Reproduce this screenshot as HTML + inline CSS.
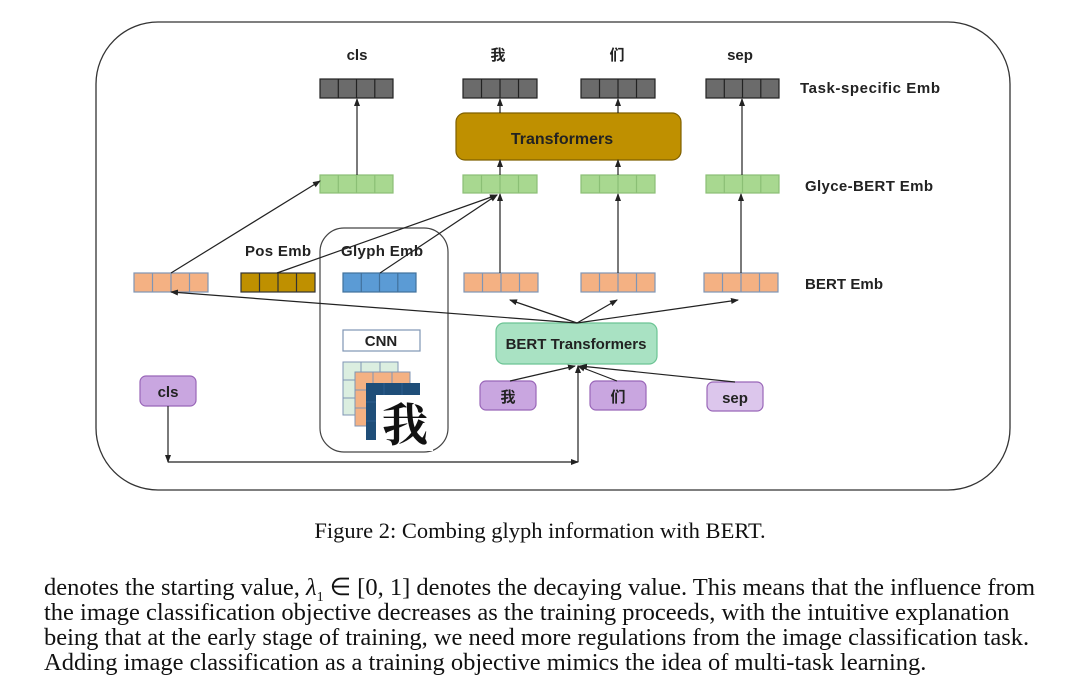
<!DOCTYPE html>
<html><head><meta charset="utf-8"><style>
body{margin:0;background:#fff;width:1080px;height:698px;overflow:hidden;position:relative}
svg{position:absolute;left:0;top:0}
.cap{position:absolute;top:518px;left:0;width:1080px;text-align:center;font:22.5px "Liberation Serif",serif;color:#111}
.p{position:absolute;left:44px;top:575px;width:1020px;font:24.5px/25px "Liberation Serif",serif;color:#111}
.p div{white-space:nowrap;height:25px}
sub{font-size:14px;line-height:0}
</style></head><body>
<svg width="1080" height="500" xmlns="http://www.w3.org/2000/svg" font-family="Liberation Sans, Noto Sans CJK SC, sans-serif">
<defs><marker id="a" markerWidth="8" markerHeight="8" refX="7" refY="4" orient="auto" markerUnits="userSpaceOnUse"><path d="M0,1 L8,4 L0,7z" fill="#222"/></marker></defs>
<rect x="96" y="22" width="914" height="468" rx="62" fill="none" stroke="#333" stroke-width="1.3"/>
<g font-size="15" font-weight="bold" fill="#222" text-anchor="middle">
<text x="357" y="60">cls</text><text x="498" y="60">我</text><text x="617" y="60">们</text><text x="740" y="60">sep</text>
</g>
<g font-size="15" font-weight="bold" fill="#222"><text x="800" y="93" textLength="140">Task-specific Emb</text><text x="805" y="191" textLength="128">Glyce-BERT Emb</text><text x="805" y="289" textLength="78">BERT Emb</text>
<text x="245" y="256" textLength="66">Pos Emb</text><text x="341" y="256" textLength="82">Glyph Emb</text></g>
<rect x="320" y="228" width="128" height="224" rx="24" fill="none" stroke="#444" stroke-width="1.2"/>
<g stroke-width="1.2">
<g fill="#6b6b6b" stroke="#222">
<rect x="320" y="79" width="73" height="19"/><rect x="463" y="79" width="74" height="19"/><rect x="581" y="79" width="74" height="19"/><rect x="706" y="79" width="73" height="19"/></g>
<g fill="#a8d890" stroke="#8bbf75">
<rect x="320" y="175" width="73" height="18"/><rect x="463" y="175" width="74" height="18"/><rect x="581" y="175" width="74" height="18"/><rect x="706" y="175" width="73" height="18"/></g>
<g fill="#f4b183" stroke="#7f95b5">
<rect x="134" y="273" width="74" height="19"/><rect x="464" y="273" width="74" height="19"/><rect x="581" y="273" width="74" height="19"/><rect x="704" y="273" width="74" height="19"/></g>
<rect x="241" y="273" width="74" height="19" fill="#bf9000" stroke="#333"/>
<rect x="343" y="273" width="73" height="19" fill="#5b9bd5" stroke="#41719c"/>
</g>
<g stroke-width="1.2">
<path d="M338.3 79v19M356.5 79v19M374.8 79v19M481.5 79v19M500 79v19M518.5 79v19M599.5 79v19M618 79v19M636.5 79v19M724.3 79v19M742.5 79v19M760.8 79v19" stroke="#222"/>
<path d="M338.3 175v18M356.5 175v18M374.8 175v18M481.5 175v18M500 175v18M518.5 175v18M599.5 175v18M618 175v18M636.5 175v18M724.3 175v18M742.5 175v18M760.8 175v18" stroke="#8bbf75"/>
<path d="M152.5 273v19M171 273v19M189.5 273v19M482.5 273v19M501 273v19M519.5 273v19M599.5 273v19M618 273v19M636.5 273v19M722.5 273v19M741 273v19M759.5 273v19" stroke="#7f95b5"/>
<path d="M259.5 273v19M278 273v19M296.5 273v19" stroke="#333"/>
<path d="M361.3 273v19M379.5 273v19M397.8 273v19" stroke="#41719c"/>
</g>
<rect x="456" y="113" width="225" height="47" rx="9" fill="#bf9000" stroke="#7f6000" stroke-width="1.2"/>
<text x="562" y="144" font-size="16" font-weight="bold" text-anchor="middle" fill="#222">Transformers</text>
<rect x="343" y="330" width="77" height="21" fill="#fff" stroke="#7f95b5" stroke-width="1.2"/>
<text x="381" y="346" font-size="15" font-weight="bold" text-anchor="middle" fill="#222">CNN</text>
<g stroke-width="1">
<rect x="343" y="362" width="55" height="53" fill="#dbeee0" stroke="#7f95b5"/>
<path d="M361 362v53M380 362v53M343 380h55M343 398h55" stroke="#7f95b5"/>
<rect x="355" y="372" width="55" height="54" fill="#f4b183" stroke="#7f95b5"/>
<path d="M373 372v54M392 372v54M355 390h55M355 408h55" stroke="#7f95b5"/>
<rect x="366" y="383" width="54" height="57" fill="#1f4e79"/>
<path d="M384 383v57M402 383v57M366 402h54M366 421h54" stroke="#2e5f8f"/>
<rect x="376" y="395" width="57" height="56" fill="#fff"/>
</g>
<text x="405" y="441" font-size="46" text-anchor="middle" fill="#111" font-family="Noto Serif CJK SC, serif" font-weight="bold">我</text>
<rect x="496" y="323" width="161" height="41" rx="8" fill="#a9e2c3" stroke="#6cc494" stroke-width="1.2"/>
<text x="576" y="349" font-size="15" font-weight="bold" text-anchor="middle" fill="#222">BERT Transformers</text>
<g stroke="#9966b8" stroke-width="1.2">
<rect x="140" y="376" width="56" height="30" rx="6" fill="#c9a6e0"/>
<rect x="480" y="381" width="56" height="29" rx="6" fill="#c9a6e0"/>
<rect x="590" y="381" width="56" height="29" rx="6" fill="#c9a6e0"/>
<rect x="707" y="382" width="56" height="29" rx="6" fill="#dcc6ec"/>
</g>
<g font-size="15" font-weight="bold" text-anchor="middle" fill="#222">
<text x="168" y="397">cls</text><text x="508" y="402">我</text><text x="618" y="402">们</text><text x="735" y="403">sep</text></g>
<g stroke="#222" stroke-width="1.2" fill="none" marker-end="url(#a)">
<path d="M168 406V462"/>
<path d="M168 462H578"/>
<path d="M578 462V366"/>
<path d="M510 381L575 366"/>
<path d="M617 381L578 366"/>
<path d="M735 382L580 366"/>
<path d="M577 323L510 300"/>
<path d="M577 323L617 300"/>
<path d="M577 323L738 300"/>
<path d="M577 323L171 292"/>
<path d="M171 273L320 181"/>
<path d="M277 273L497 195"/>
<path d="M380 273L497 195"/>
<path d="M500 273V194"/>
<path d="M618 273V194"/>
<path d="M741 273V194"/>
<path d="M357 175V99"/>
<path d="M500 175V160"/>
<path d="M618 175V160"/>
<path d="M742 175V99"/>
<path d="M500 113V99"/>
<path d="M618 113V99"/>
</g>
</svg>
<div class="cap">Figure 2: Combing glyph information with BERT.</div>
<div class="p">
<div>denotes the starting value, <i>λ</i><sub>1</sub> ∈ [0, 1] denotes the decaying value. This means that the influence from</div>
<div>the image classification objective decreases as the training proceeds, with the intuitive explanation</div>
<div>being that at the early stage of training, we need more regulations from the image classification task.</div>
<div>Adding image classification as a training objective mimics the idea of multi-task learning.</div>
</div>
</body></html>
